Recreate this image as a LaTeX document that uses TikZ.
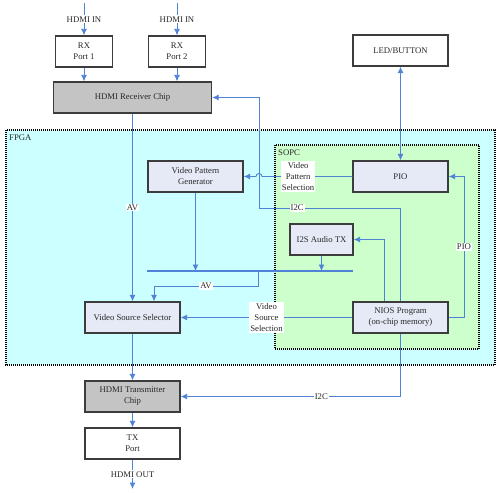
\documentclass[tikz,border=0pt]{standalone}
\usepackage{fontspec}
\setmainfont{Liberation Serif}
\usetikzlibrary{arrows.meta}
\definecolor{linkblue}{RGB}{80,130,215}
\definecolor{boxline}{RGB}{60,60,60}
\definecolor{txtgray}{RGB}{40,40,40}
\definecolor{chipgray}{RGB}{196,196,196}
\definecolor{blockfill}{RGB}{230,234,246}
\definecolor{fpgacyan}{RGB}{204,255,255}
\definecolor{sopcgreen}{RGB}{204,255,204}
\begin{document}
\begin{tikzpicture}[x=1pt,y=-1pt,
    font=\fontsize{8.7}{11}\selectfont, text=txtgray,
    blk/.style={draw=boxline,line width=1.3pt,fill=blockfill,minimum width=95pt,minimum height=31pt,align=center,inner sep=1pt},
    port/.style={blk,fill=white,minimum width=57pt},
    chip/.style={blk,fill=chipgray},
    region/.style={draw=black,line width=1.3pt,dash pattern=on 1pt off 1pt},
    link/.style={draw=linkblue,line width=0.9pt,-{Latex[length=6.5pt,width=6pt]}},
    lbl/.style={fill=white,inner sep=1pt,align=center}]
    \useasboundingbox (0,0) rectangle (500,492);

    % containers
    \draw [region,fill=fpgacyan] (6,130) rectangle (495,365);
    \draw [region,fill=sopcgreen] (275,145) rectangle (479,349);
    \node (fpgaT) [anchor=west,inner sep=0pt] at (9,138) {FPGA};
    \node (sopcT) [anchor=west,inner sep=0pt] at (278,153) {SOPC};

    % blocks
    \node (rx1) [port] at (84,51.5) {RX\\Port 1};
    \node (rx2) [port] at (177,51.5) {RX\\Port 2};
    \node (rcv) [chip,minimum width=158pt] at (132.5,97.5) {HDMI Receiver Chip};
    \node (led) [blk,fill=white] at (400.5,50.5) {LED/BUTTON};
    \node (vpg) [blk] at (195.5,176.5) {Video Pattern\\Generator};
    \node (pio) [blk] at (400.5,176.5) {PIO};
    \node (i2s) [blk,minimum width=63pt] at (321.5,239.5) {I2S Audio TX};
    \node (vss) [blk] at (132.5,317.5) {Video Source Selector};
    \node (nios) [blk] at (400.5,317.5) {NIOS Program\\(on-chip memory)};
    \node (txc) [chip] at (132.5,396.5) {HDMI Transmitter\\Chip};
    \node (txp) [port,minimum width=95pt] at (132.5,443.5) {TX\\Port};

    \coordinate (in1) at (84,3);
    \coordinate (in2) at (177,3);
    \coordinate (out) at (132.5,489);
    \coordinate (busL) at (147,271);
    \coordinate (busR) at (353,271);
    \coordinate (avtap) at (258,271);
    \coordinate (hop) at (259,176.5);
    \coordinate (i2cbend) at (259,208);
    \coordinate (pioR) at (464,176.5);

    % HDMI in / out
    \draw [link] (in1) -- node[lbl]{HDMI IN} (rx1);
    \draw [link] (in2) -- node[lbl]{HDMI IN} (rx2);
    \draw [link] (rx1) -- (rcv.north -| rx1);
    \draw [link] (rx2) -- (rcv.north -| rx2);
    \draw [link] (rcv) -- node[lbl]{AV} (vss);
    \draw [link] (vss) -- (txc);
    \draw [link] (txc) -- (txp);
    \draw [link] (txp) -- node[lbl]{HDMI OUT} (out);

    % AV bus
    \draw [linkblue,line width=2.6pt] (busL) -- (busR);
    \draw [link] (vpg) -- (vpg |- busL);
    \draw [link] (i2s) -- (i2s |- busL);
    \draw [link] (avtap) -- ++(0,15) -| node[lbl,pos=0.25]{AV} ([xshift=21.5pt]vss.north);

    % control
    \draw [link,{Latex[length=6.5pt,width=6pt]}-{Latex[length=6.5pt,width=6pt]}] (led) -- (pio);
    \draw [link] (pio.west) -- node[lbl,pos=0.6]{Video\\Pattern\\Selection} ([xshift=3pt]hop)
        arc[start angle=0,end angle=180,radius=3pt] -- (vpg.east);
    \draw [link] (nios.west) -- node[lbl]{Video\\Source\\Selection} (vss.east);
    \draw [link] ([xshift=-16.5pt]nios.north) |- (i2s.east);
    \draw [link] (nios.east) -| node[lbl,pos=0.75]{PIO} (pioR) -- (pio.east);
    \draw [link] (nios.north) |- node[lbl,pos=0.865]{I2C} (i2cbend) |- (rcv.east);
    \draw [link] (nios.south) |- node[lbl,pos=0.68]{I2C} (txc.east);
\end{tikzpicture}
\end{document}
